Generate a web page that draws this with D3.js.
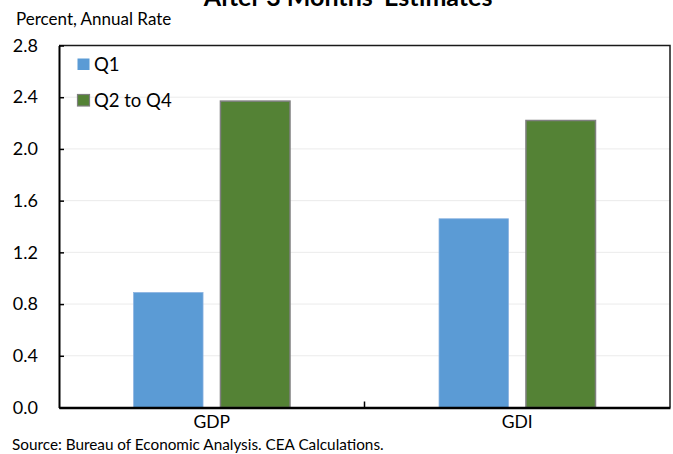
<!DOCTYPE html>
<html>
<head>
<meta charset="utf-8">
<script src="https://cdn.jsdelivr.net/npm/d3@7"></script>
<style>
  html, body { margin: 0; padding: 0; background: #fff; }
  svg { display: block; font-family: Lato, "Liberation Sans", sans-serif; }
</style>
</head>
<body>
<svg id="chart" width="673" height="454"></svg>
<script>
// Growth measures and the two estimate periods
const categories = ["GDP", "GDI"];
const seriesNames = ["Q1", "Q2 to Q4"];
const q1Values = [0.89, 1.46];
const q2to4Values = [2.37, 2.22];
const yTicks = [0.0, 0.4, 0.8, 1.2, 1.6, 2.0, 2.4, 2.8];

const colors = ["#5B9BD5", "#548235"];
const strokes = ["#8DB4E2", "#7F7F7F"];

const svg = d3.select("#chart");
const margin = { left: 59, right: 3, top: 45.5, bottom: 46.5 };
const W = 673, H = 454;
const innerW = W - margin.left - margin.right;
const innerH = H - margin.top - margin.bottom;

const g = svg.append("g").attr("transform", `translate(${margin.left},${margin.top})`);

const x0 = d3.scaleBand().domain(categories).range([0, innerW]).paddingInner(0).paddingOuter(0);
const x1 = d3.scaleBand().domain(seriesNames).range([74.5, x0.bandwidth() - 74.5]).paddingInner(0.2).paddingOuter(0);
const y = d3.scaleLinear().domain([0, 2.8]).range([innerH, 0]);

// horizontal gridlines
g.append("g").selectAll("line").data(yTicks.slice(1, -1)).join("line")
  .attr("x1", 0).attr("x2", innerW)
  .attr("y1", d => y(d)).attr("y2", d => y(d))
  .attr("stroke", "#EBEBEB").attr("stroke-width", 1);

// bars
const rows = categories.map((c, i) => ({ cat: c, vals: [q1Values[i], q2to4Values[i]] }));
g.append("g").selectAll("g").data(rows).join("g")
  .attr("transform", d => `translate(${x0(d.cat)},0)`)
  .selectAll("rect").data(d => d.vals.map((v, j) => ({ s: seriesNames[j], v, j }))).join("rect")
  .attr("x", d => x1(d.s))
  .attr("width", x1.bandwidth())
  .attr("y", d => y(d.v))
  .attr("height", d => y(0) - y(d.v))
  .attr("fill", d => colors[d.j])
  .attr("stroke", d => strokes[d.j])
  .attr("stroke-width", d => d.j === 1 ? 1.5 : 0.75);

// frame: top and right edges
g.append("path")
  .attr("d", `M0,0H${innerW}V${innerH}`)
  .attr("fill", "none").attr("stroke", "#1a1a1a").attr("stroke-width", 1.5);

// y axis
const yAxis = g.append("g").call(
  d3.axisLeft(y).tickValues(yTicks).tickFormat(d3.format(".1f")).tickSizeInner(-5).tickSizeOuter(0).tickPadding(21)
);
yAxis.select(".domain").attr("stroke", "#000").attr("stroke-width", 2);
yAxis.selectAll(".tick line").attr("stroke", "#000").attr("stroke-width", 1.5);
yAxis.selectAll(".tick text").attr("fill", "#000").attr("font-size", 18)
  .attr("font-family", "Lato, sans-serif");

// x axis
const xAxis = g.append("g").attr("transform", `translate(0,${innerH})`).call(
  d3.axisBottom(x0).tickSize(0).tickPadding(8)
);
xAxis.select(".domain").attr("stroke", "#000").attr("stroke-width", 2.5);
xAxis.selectAll(".tick text").attr("fill", "#000").attr("font-size", 17.5)
  .attr("font-family", "Lato, sans-serif");
// category divider tick pointing up
g.append("line")
  .attr("x1", x0.bandwidth()).attr("x2", x0.bandwidth())
  .attr("y1", innerH).attr("y2", innerH - 6)
  .attr("stroke", "#000").attr("stroke-width", 1.5);

// legend
const legend = svg.append("g").attr("transform", "translate(77,58)");
seriesNames.forEach((name, i) => {
  const row = legend.append("g").attr("transform", `translate(0,${i * 36})`);
  row.append("rect").attr("x", 0.5).attr("y", 0.5).attr("width", 12).attr("height", 11.5)
    .attr("fill", colors[i]).attr("stroke", i === 1 ? strokes[1] : "none").attr("stroke-width", 1.2);
  row.append("text").attr("x", 17).attr("y", 12.5).attr("font-size", 18.5).attr("fill", "#000").text(name);
});

// title (top line falls outside the canvas)
svg.append("text").attr("x", 348).attr("y", 5.5).attr("text-anchor", "middle")
  .attr("font-size", 25).attr("font-weight", "bold").attr("fill", "#000")
  .text("After 3 Months' Estimates");

// unit label
svg.append("text").attr("x", 16).attr("y", 25).attr("font-size", 17).attr("fill", "#000")
  .text("Percent, Annual Rate");

// source note
svg.append("text").attr("x", 12).attr("y", 449.5).attr("font-size", 15.3).attr("fill", "#000")
  .text("Source: Bureau of Economic Analysis. CEA Calculations.");
</script>
</body>
</html>
